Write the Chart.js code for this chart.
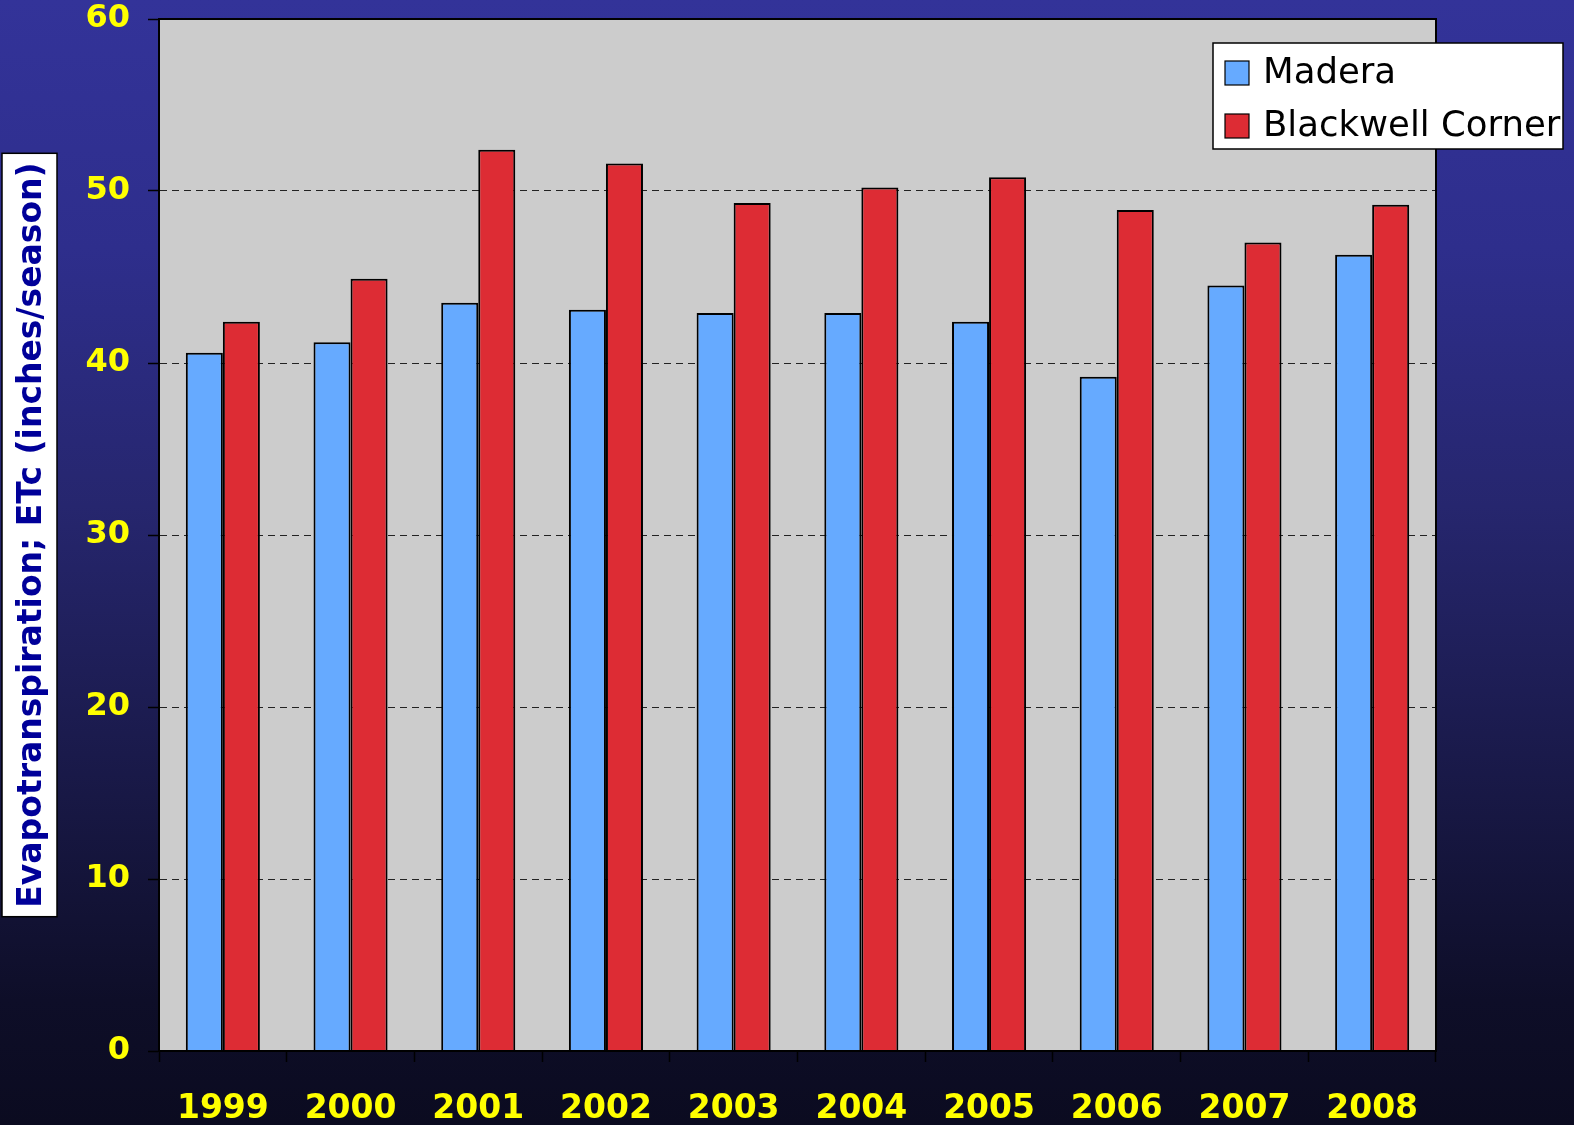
<!DOCTYPE html>
<html>
<head>
<meta charset="utf-8">
<script src="https://cdn.jsdelivr.net/npm/chart.js@4"></script>
<style>
  html, body { margin: 0; padding: 0; }
  body {
    width: 1574px; height: 1125px; overflow: hidden;
    background: linear-gradient(to bottom, #333399 0%, #2e2e8c 22%, #26266e 45%, #1a1a4b 67%, #0e0e28 89%, #0b0b20 100%);
  }
  #wrap { position: absolute; left: 0; top: 0; width: 1574px; height: 1125px; }
</style>
</head>
<body>
<div id="wrap"><canvas id="c" width="1574" height="1125"></canvas></div>
<script>
const categories = ['1999', '2000', '2001', '2002', '2003', '2004', '2005', '2006', '2007', '2008'];
const madera = [40.6, 41.2, 43.5, 43.1, 42.9, 42.9, 42.4, 39.2, 44.5, 46.3];
const blackwellCorner = [42.4, 44.9, 52.4, 51.6, 49.3, 50.2, 50.8, 48.9, 47.0, 49.2];
const seriesNames = ['Madera', 'Blackwell Corner'];
const seriesColors = ['#66aaff', '#dd2c34'];
const yTitle = 'Evapotranspiration; ETc (inches/season)';

const plotBgPlugin = {
  id: 'plotBg',
  beforeDraw(chart) {
    const {ctx, chartArea: a} = chart;
    ctx.save();
    ctx.fillStyle = '#cccccc';
    ctx.fillRect(a.left, a.top, a.right - a.left, a.bottom - a.top);
    // white box behind the y-axis title
    ctx.font = 'bold 33px "DejaVu Sans"';
    const w = ctx.measureText(yTitle).width;
    const cy = (a.top + a.bottom) / 2;
    const h = w + 18;
    ctx.fillStyle = '#ffffff';
    ctx.fillRect(2, cy - h / 2, 55, h);
    ctx.strokeStyle = '#000000';
    ctx.lineWidth = 1.5;
    ctx.strokeRect(2, cy - h / 2, 55, h);
    ctx.restore();
  },
  afterDatasetsDraw(chart) {
    const {ctx, chartArea: a} = chart;
    ctx.save();
    ctx.strokeStyle = '#000000';
    ctx.lineWidth = 2;
    ctx.strokeRect(a.left, a.top, a.right - a.left, a.bottom - a.top);
    ctx.restore();
  },
  afterDraw(chart) {
    // legend box
    const {ctx} = chart;
    const x = 1213, y = 43, w = 350, h = 106;
    ctx.save();
    ctx.fillStyle = '#ffffff';
    ctx.fillRect(x, y, w, h);
    ctx.strokeStyle = '#000000';
    ctx.lineWidth = 1.5;
    ctx.strokeRect(x, y, w, h);
    ctx.font = '35.5px "DejaVu Sans"';
    ctx.textBaseline = 'middle';
    chart.data.datasets.forEach((ds, i) => {
      const cy = y + 30 + i * 53;
      ctx.fillStyle = ds.backgroundColor;
      ctx.fillRect(x + 12, cy - 12, 24, 24);
      ctx.strokeStyle = '#000';
      ctx.lineWidth = 1.2;
      ctx.strokeRect(x + 12, cy - 12, 24, 24);
      ctx.fillStyle = '#000000';
      ctx.fillText(ds.label, x + 50, cy + 1);
    });
    ctx.restore();
  }
};

new Chart(document.getElementById('c'), {
  type: 'bar',
  data: {
    labels: categories,
    datasets: [
      { label: seriesNames[0], data: madera, backgroundColor: seriesColors[0], borderColor: '#000', borderWidth: 2 },
      { label: seriesNames[1], data: blackwellCorner, backgroundColor: seriesColors[1], borderColor: '#000', borderWidth: 2 }
    ]
  },
  options: {
    responsive: false,
    animation: false,
    devicePixelRatio: 1,
    layout: { padding: { top: 19, right: 138, bottom: 0, left: 0 } },
    datasets: { bar: { categoryPercentage: 0.58, barPercentage: 1.0 } },
    plugins: { legend: { display: false }, tooltip: { enabled: false }, title: { display: false } },
    scales: {
      x: {
        grid: { drawOnChartArea: false, drawTicks: true, tickLength: 11, tickColor: '#000', tickWidth: 1.5, offset: true },
        border: { display: true, color: '#000', width: 2 },
        ticks: { color: '#ffff00', font: { family: '"DejaVu Sans"', size: 33, weight: 'bold' }, padding: 28, maxRotation: 0 },
        afterFit(scale) { scale.height = 74; scale.paddingLeft = 0; scale.paddingRight = 0; }
      },
      y: {
        min: 0, max: 60,
        ticks: { stepSize: 10, color: '#ffff00', font: { family: '"DejaVu Sans"', size: 32, weight: 'bold' }, padding: 18 },
        grid: { color: '#222', lineWidth: 1, tickColor: '#000', tickLength: 11, tickWidth: 1.5, tickBorderDash: [] },
        border: { display: true, color: '#000', width: 2, dash: [7, 5] },
        title: { display: true, text: yTitle, color: '#000099', font: { family: '"DejaVu Sans"', size: 33, weight: 'bold' }, padding: { top: 13, bottom: 0 } },
        afterFit(scale) { scale.width = 159; scale.paddingTop = 0; scale.paddingBottom = 0; }
      }
    }
  },
  plugins: [plotBgPlugin]
});
</script>
</body>
</html>
